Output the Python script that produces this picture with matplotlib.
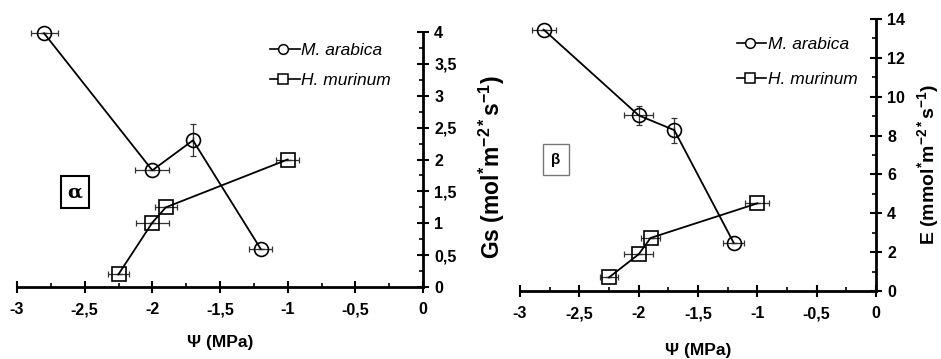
import matplotlib
matplotlib.use("Agg")
import matplotlib.pyplot as plt
from matplotlib.ticker import MultipleLocator, FuncFormatter
from matplotlib.legend_handler import HandlerBase
from matplotlib.lines import Line2D

plt.rcParams['font.family'] = ['Liberation Sans', 'DejaVu Sans']
plt.rcParams['mathtext.fontset'] = 'custom'
plt.rcParams['mathtext.rm'] = 'Liberation Sans:bold'
plt.rcParams['mathtext.it'] = 'Liberation Sans:bold'
plt.rcParams['mathtext.bf'] = 'Liberation Sans:bold'
plt.rcParams['mathtext.default'] = 'rm'

# Panel alpha: Gs
psi_ma = [-2.8, -2.0, -1.7, -1.2]
psi_ma_err = [0.10, 0.125, 0.0, 0.085]
gs_ma = [3.98, 1.83, 2.30, 0.60]
gs_ma_err = [0.0, 0.0, 0.25, 0.0]

psi_hm = [-2.25, -2.0, -1.9, -1.0]
psi_hm_err = [0.08, 0.12, 0.08, 0.085]
gs_hm = [0.20, 1.01, 1.25, 2.0]
gs_hm_err = [0.0, 0.0, 0.0, 0.0]

# Panel beta: E
e_psi_ma_err = [0.10, 0.12, 0.0, 0.09]
e_ma = [13.45, 9.04, 8.28, 2.49]
e_ma_err = [0.0, 0.5, 0.65, 0.0]
e_psi_hm_err = [0.08, 0.12, 0.08, 0.10]
e_hm = [0.70, 1.89, 2.73, 4.51]
e_hm_err = [0.0, 0.0, 0.0, 0.0]

fig = plt.figure(figsize=(9.41, 3.59), dpi=100)
ax1 = fig.add_axes([17/941, 72/359, 406/941, 255/359])
ax2 = fig.add_axes([520/941, 68/359, 356/941, 272/359])

fmt = FuncFormatter(lambda v, p: ('%g' % v).replace('.', ','))


class LegendHandle(HandlerBase):
    def create_artists(self, legend, orig_handle, xdescent, ydescent,
                       width, height, fontsize, trans):
        y = height / 2 - ydescent
        x0 = -xdescent
        line = Line2D([x0, x0 + width], [y, y], color='black', lw=1.2)
        mk = Line2D([x0 + width * 0.45], [y], marker=orig_handle.get_marker(),
                    ms=7, mfc='white', mec='black', mew=1.1, ls='none')
        line.set_transform(trans)
        mk.set_transform(trans)
        return [line, mk]


def style(ax, ymax, ymajor, yminor):
    ax.set_xlim(-3, 0)
    ax.set_ylim(0, ymax)
    for s in ['top', 'left']:
        ax.spines[s].set_visible(False)
    ax.spines['bottom'].set_linewidth(2)
    ax.spines['right'].set_linewidth(2)
    ax.yaxis.tick_right()
    ax.xaxis.set_major_locator(MultipleLocator(0.5))
    ax.xaxis.set_minor_locator(MultipleLocator(0.25))
    ax.yaxis.set_major_locator(MultipleLocator(ymajor))
    ax.yaxis.set_minor_locator(MultipleLocator(yminor))
    ax.xaxis.set_major_formatter(fmt)
    ax.yaxis.set_major_formatter(fmt)
    ax.tick_params(which='major', direction='inout', length=8, width=1.5,
                   labelsize=11.5, pad=4)
    ax.tick_params(which='minor', direction='in', length=3, width=1.2)
    ax.tick_params(axis='x', which='major', pad=7)
    for lab in ax.get_xticklabels() + ax.get_yticklabels():
        lab.set_fontweight('bold')
    ax.set_facecolor('none')


def plot_series(ax, x, xe, y, ye, marker, label):
    ax.errorbar(x, y, xerr=xe, yerr=ye, fmt='none', ecolor='#333333',
                elinewidth=0.9, capsize=2.5, capthick=0.9, zorder=2,
                clip_on=False)
    ax.plot(x, y, color='black', lw=1.3, marker=marker, ms=10,
            mfc='none', mec='black', mew=1.2, label=label, zorder=3,
            clip_on=False)


plot_series(ax1, psi_ma, psi_ma_err, gs_ma, gs_ma_err, 'o', 'M. arabica')
plot_series(ax1, psi_hm, psi_hm_err, gs_hm, gs_hm_err, 's', 'H. murinum')
style(ax1, 4, 0.5, 0.25)

plot_series(ax2, psi_ma, e_psi_ma_err, e_ma, e_ma_err, 'o', 'M. arabica')
plot_series(ax2, psi_hm, e_psi_hm_err, e_hm, e_hm_err, 's', 'H. murinum')
style(ax2, 14, 2, 1)

for ax, loc, sp in [(ax1, (0.585, 1.02), 0.85), (ax2, (0.565, 0.99), 1.1)]:
    h, l = ax.get_legend_handles_labels()
    ax.legend(h, l, loc='upper left', bbox_to_anchor=loc, frameon=False,
              handlelength=1.7, handletextpad=0.1, labelspacing=sp,
              handler_map={Line2D: LegendHandle()},
              prop={'style': 'italic', 'size': 12.5})

ax1.set_xlabel('Ψ (MPa)', fontsize=12.5, fontweight='bold')
ax2.set_xlabel('Ψ (MPa)', fontsize=12.5, fontweight='bold')
ax1.xaxis.set_label_coords(0.5, -0.19)
ax2.xaxis.set_label_coords(0.5, -0.19)

fig.text(492/941, 1 - 167/359, r'Gs (mol$^{*}$m$^{-2*}$s$^{-1}$)',
         rotation=90, ha='center', va='center', fontsize=16.5,
         fontweight='bold')
fig.text(928/941, 1 - 164/359, r'E (mmol$^{*}$m$^{-2*}$s$^{-1}$)',
         rotation=90, ha='center', va='center', fontsize=14,
         fontweight='bold')

ax1.text(0.143, 0.372, 'α', transform=ax1.transAxes, fontsize=14,
         fontweight='bold', family='DejaVu Serif', ha='center', va='center',
         bbox=dict(boxstyle='square,pad=0.35', fc='white', ec='black', lw=1.5))
ax2.text(0.1, 0.482, 'β', transform=ax2.transAxes, fontsize=11,
         fontweight='bold', ha='center', va='center',
         bbox=dict(boxstyle='square,pad=0.55', fc='white', ec='#777777', lw=1))

fig.savefig('out.png', dpi=100)
